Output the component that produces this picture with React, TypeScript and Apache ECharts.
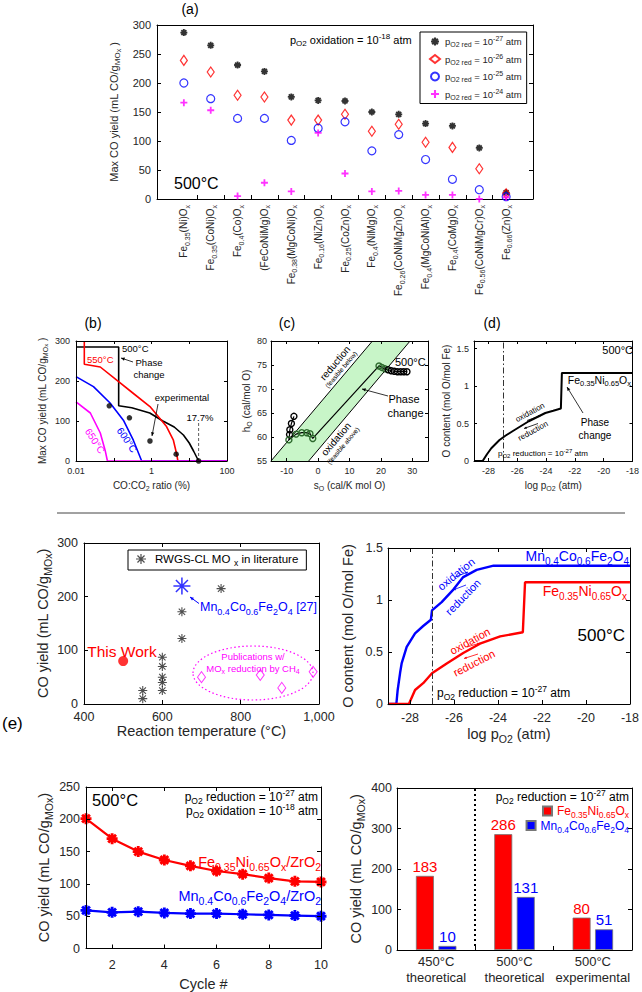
import React, { useEffect, useRef } from "react";
import * as echarts from "echarts";

const FONT = "'Liberation Sans', Arial, Helvetica, sans-serif";
const INK = "#262626";
const RED = "#ff0000";
const BLUE = "#0000ff";
const MAGENTA = "#ff00ff";
const GREEN_EDGE = "#2d6a2d";

// ---------------- (a) max CO yield per material ----------------
const materials = [
  "Fe_{0.35}(Ni)O_{x}",
  "Fe_{0.35}(CoNi)O_{x}",
  "Fe_{0.4}(Co)O_{x}",
  "(FeCoNiMg)O_{x}",
  "Fe_{0.38}(MgCoNi)O_{x}",
  "Fe_{0.16}(NiZn)O_{x}",
  "Fe_{0.25}(CoZn)O_{x}",
  "Fe_{0.4}(NiMg)O_{x}",
  "Fe_{0.26}(CoNiMgZn)O_{x}",
  "Fe_{0.4}(MgCoNiAl)O_{x}",
  "Fe_{0.4}(CoMg)O_{x}",
  "Fe_{0.56}(CoNiMgCr)O_{x}",
  "Fe_{0.66}(Zn)O_{x}",
];
const yieldRed27 = [287, 265, 231, 220, 176, 170, 169, 150, 146, 130, 126, 88, 11];
const yieldRed26 = [239, 219, 179, 176, 136, 136, 146, 117, 129, 98, 89, 52, 9];
const yieldRed25 = [200, 173, 139, 139, 101, 122, 133, 83, 111, 68, 34, 16, 4];
const yieldRed24 = [166, 153, 5, 28, 13, 114, 44, 13, 14, 7, 7, 0, 3];
const aLegendLabels = [
  "p_{O2 red} = 10^{-27} atm",
  "p_{O2 red} = 10^{-26} atm",
  "p_{O2 red} = 10^{-25} atm",
  "p_{O2 red} = 10^{-24} atm",
];

// ---------------- (b) yield vs CO:CO2 ratio ----------------
const bTickLabels = ["0.01", "1", "100"];
const b500 = [[0.01, 285], [0.135, 285], [0.135, 138], [0.3, 133], [0.9, 120], [2, 100], [4, 85], [7, 65], [10, 45], [13, 25], [17.7, 0], [100, 0]];
const b550 = [[0.0166, 300], [0.0166, 242], [0.044, 235], [0.12, 202], [0.32, 170], [0.91, 136], [2.5, 86], [3.8, 52], [4.7, 15], [5, 0], [100, 0]];
const b600 = [[0.01, 211], [0.029, 186], [0.08, 145], [0.18, 102], [0.33, 52], [0.55, 0], [100, 0]];
const b650 = [[0.01, 148], [0.024, 120], [0.044, 70], [0.059, 27], [0.068, 0], [100, 0]];
const bExperimental = [[0.076, 138], [0.26, 108], [0.91, 50], [4.5, 17], [17.7, 0]];
const bLimitMarker = [[17.7, 0], [17.7, 98]];

// ---------------- (c) hO vs sO ----------------
const cReductionLine = [[-15, 55], [17.3, 80]];
const cOxidationLine = [[-3, 55], [29.3, 80]];
const cFeasibleBand = [[-15, 55], [17.3, 80], [29.3, 80], [-3, 55]];
const cPath = [
  [-7.7, 64.3], [-8.5, 62.8], [-9.0, 61.5], [-9.1, 60.5], [-9.3, 59.4],
  [-7.0, 60.6], [-5.2, 60.9], [-3.6, 60.9], [-2.6, 60.7], [-1.7, 59.7],
  [19.4, 74.8], [20.3, 74.5], [21.3, 74.2], [22.3, 74.0], [23.3, 73.8],
  [24.3, 73.7], [25.3, 73.6], [26.3, 73.6], [27.3, 73.6], [28.3, 73.6],
];

// ---------------- (d) O content vs log pO2 ----------------
const dCurve = [[-29, 0], [-28.4, 0], [-28.1, 0.09], [-27.8, 0.17], [-27.23, 0.28], [-26.8, 0.34], [-26.3, 0.4], [-25.2, 0.53], [-24.05, 0.64], [-23.5, 0.67], [-22.97, 0.7], [-22.9, 1.175], [-18, 1.175]];
const pO2Reduction = -27;

// ---------------- (e) literature comparison ----------------
const litRWGS = [[550, 25], [550, 10], [600, 87], [600, 70], [600, 50], [600, 40], [600, 25], [650, 172], [650, 122], [750, 215]];
const litMnCoFe = [[650, 220]];
const thisWork = [[500, 80]];
const litCH4 = [[700, 50], [850, 54], [905, 30], [985, 60]];

const eMnCoFe = [[-29, 0], [-28.62, 0], [-28.56, 0.135], [-28.45, 0.3], [-28.38, 0.39], [-28.15, 0.55], [-27.77, 0.68], [-27.4, 0.75], [-27.05, 0.81], [-27, 0.9], [-26.56, 0.98], [-26.03, 1.1], [-25.58, 1.22], [-24.97, 1.29], [-24.2, 1.33], [-18, 1.33]];
const eFeNi = [[-29, 0], [-28.05, 0], [-27.77, 0.135], [-27.4, 0.2], [-27, 0.295], [-26.33, 0.39], [-25.58, 0.49], [-24.82, 0.58], [-23.9, 0.65], [-22.87, 0.69], [-22.77, 1.17], [-18, 1.17]];

const cycles = [1, 2, 3, 4, 5, 6, 7, 8, 9, 10];
const cycleFeNi = [201, 170, 150, 137, 128, 120, 115, 109, 104, 103];
const cycleMnCo = [59, 56, 57, 55, 54, 54, 53, 52, 51, 50];

const barCategories = ["450°C\ntheoretical", "500°C\ntheoretical", "500°C\nexperimental"];
const barFeNi = [183, 286, 80];
const barMnCo = [10, 131, 51];

// ---------------- helpers ----------------
function rt(s: string): string {
  const re = /(_|\^|~)\{([^}]*)\}|([^_^~]+)/g;
  let out = "";
  let m: RegExpExecArray | null;
  while ((m = re.exec(s)) !== null) {
    if (m[3] !== undefined) out += `{n|${m[3]}}`;
    else out += `{${m[1] === "_" ? "s" : m[1] === "^" ? "u" : "t"}|${m[2]}}`;
  }
  return out;
}
function rich(size: number, color: string = INK) {
  const lh = Math.round(size * 1.4);
  const ss = Math.max(5.5, Math.round(size * 0.72 * 2) / 2);
  const tt = Math.max(5, Math.round(ss * 0.85));
  const base = { color, fill: color, fontFamily: FONT };
  return {
    n: { ...base, fontSize: size, lineHeight: lh, verticalAlign: "middle" },
    s: { ...base, fontSize: ss, lineHeight: ss, verticalAlign: "bottom" },
    u: { ...base, fontSize: ss, lineHeight: ss, verticalAlign: "top" },
    t: { ...base, fontSize: tt, lineHeight: Math.round(tt * 0.6), verticalAlign: "bottom" },
  };
}
function clean(o: any): any {
  if (Array.isArray(o)) return o.map(clean);
  if (o && typeof o === "object") {
    const r: any = {};
    Object.keys(o).forEach((k) => {
      if (o[k] !== undefined) r[k] = clean(o[k]);
    });
    return r;
  }
  return o;
}
function asterisk(hw: number): string {
  const c = 12, R = 10, r = R / Math.SQRT2, d = hw / Math.SQRT2;
  const f = (v: number) => v.toFixed(2);
  const poly = (pts: number[][]) => "M" + pts.map((p) => f(p[0]) + " " + f(p[1])).join("L") + "Z";
  return "path://" + [
    poly([[c - R, c - hw], [c + R, c - hw], [c + R, c + hw], [c - R, c + hw]]),
    poly([[c - hw, c - R], [c + hw, c - R], [c + hw, c + R], [c - hw, c + R]]),
    poly([[c - r + d, c - r - d], [c + r + d, c + r - d], [c + r - d, c + r + d], [c - r - d, c - r + d]]),
    poly([[c + r - d, c - r - d], [c + r + d, c - r + d], [c - r + d, c + r + d], [c - r - d, c + r - d]]),
  ].join(" ");
}
const PLUS = "path://M0 2.6L7 2.6L7 4.4L0 4.4Z M2.6 0L4.4 0L4.4 7L2.6 7Z";

function gtext(x: number, y: number, markup: string, size: number, color: string = INK, align = "left", rotation = 0) {
  return {
    type: "text",
    x, y, rotation, z: 100, silent: true,
    style: { text: rt(markup), rich: rich(size, color), fill: color, font: `${size}px ${FONT}`, align, verticalAlign: "middle" },
  };
}
function arrow(x1: number, y1: number, x2: number, y2: number, color = "#000", w = 1, head = 5) {
  const a = Math.atan2(y2 - y1, x2 - x1);
  const p1 = [x2 - head * Math.cos(a - 0.42), y2 - head * Math.sin(a - 0.42)];
  const p2 = [x2 - head * Math.cos(a + 0.42), y2 - head * Math.sin(a + 0.42)];
  return [
    { type: "line", z: 100, silent: true, shape: { x1, y1, x2, y2 }, style: { stroke: color, lineWidth: w } },
    { type: "polygon", z: 100, silent: true, shape: { points: [[x2, y2], p1, p2] }, style: { fill: color } },
  ];
}
const lineAt = (ln: number[][], s: number) => ln[0][1] + ((ln[1][1] - ln[0][1]) * (s - ln[0][0])) / (ln[1][0] - ln[0][0]);

type AxisSpec = {
  type?: string; min?: number; max?: number; interval?: number; splitNumber?: number; logBase?: number;
  data?: string[]; boundaryGap?: boolean; fs: number; margin?: number; formatter?: any;
  showMinLabel?: boolean; showMaxLabel?: boolean; name?: string; nameGap?: number; nameSize?: number;
  tickLen?: number; mirrorTicks?: boolean; lineHeight?: number; labelInterval?: number;
};

function buildOption() {
  const grid: any[] = [];
  const xAxis: any[] = [];
  const yAxis: any[] = [];
  const series: any[] = [];
  const legend: any[] = [];
  const graphic: any[] = [];
  const axisLine = { show: true, onZero: false, lineStyle: { color: "#000", width: 1 } };

  const mkAxis = (gi: number, s: AxisSpec, dim: string, pos: string, main: boolean) => {
    const a: any = {
      gridIndex: gi, position: pos, type: s.type || "value",
      min: s.min, max: s.max, interval: s.interval, splitNumber: s.splitNumber, logBase: s.logBase,
      data: s.data, boundaryGap: s.boundaryGap,
      axisLine,
      axisTick: { show: main || s.mirrorTicks !== false, inside: true, length: s.tickLen || 4, lineStyle: { color: "#000", width: 1 } },
      axisLabel: main
        ? { show: true, color: INK, fontSize: s.fs, fontFamily: FONT, margin: s.margin ?? 5, formatter: s.formatter, showMinLabel: s.showMinLabel, showMaxLabel: s.showMaxLabel, lineHeight: s.lineHeight, interval: s.labelInterval }
        : { show: false },
      splitLine: { show: false },
      z: 10,
    };
    if (main && s.name) {
      a.name = rt(s.name);
      a.nameLocation = "middle";
      a.nameGap = s.nameGap;
      a.nameRotate = dim === "y" ? 90 : 0;
      a.nameTextStyle = { rich: rich(s.nameSize || s.fs, INK), fontFamily: FONT, fontSize: s.nameSize || s.fs, color: INK };
    }
    return clean(a);
  };
  const addPanel = (rect: any, xs: AxisSpec, ys: AxisSpec) => {
    const gi = grid.length;
    grid.push({ ...rect, show: false });
    const xi = xAxis.length;
    xAxis.push(mkAxis(gi, xs, "x", "bottom", true));
    xAxis.push(mkAxis(gi, xs, "x", "top", false));
    const yi = yAxis.length;
    yAxis.push(mkAxis(gi, ys, "y", "left", true));
    yAxis.push(mkAxis(gi, ys, "y", "right", false));
    return { xAxisIndex: xi, yAxisIndex: yi };
  };
  const lineS = (ax: any, data: any[], color: string, width: number, extra: any = {}) => ({
    type: "line", ...ax, data, symbol: "none", showSymbol: false, silent: true,
    lineStyle: { color, width }, itemStyle: { color }, clip: true, z: 3, ...extra,
  });

  // ===== (a) =====
  grid.push({ left: 157, top: 25, width: 376, height: 174, show: false });
  const nSlots = (materials.length + 1) * 2;
  xAxis.push(clean({
    gridIndex: 0, type: "value", position: "bottom", min: 0, max: materials.length + 1, interval: 1,
    axisLine, axisTick: { show: false }, splitLine: { show: false },
    axisLabel: {
      color: INK, rotate: 90, margin: 6, fontFamily: FONT, fontSize: 10,
      formatter: (v: number) => {
        const i = Math.round(v);
        return Math.abs(v - i) < 1e-6 && i >= 1 && i <= materials.length ? rt(materials[i - 1]) : "";
      },
      rich: rich(10, INK),
    },
  }));
  xAxis.push({
    gridIndex: 0, type: "category", position: "bottom", boundaryGap: true,
    data: Array.from({ length: nSlots }, (_, i) => String(i)),
    axisLine: { show: false }, axisLabel: { show: false }, splitLine: { show: false },
    axisTick: { show: true, inside: true, length: 4, lineStyle: { color: "#000" }, interval: (i: number) => i % 2 === 1 && i >= 3 && i <= nSlots - 3 },
  });
  xAxis.push({ gridIndex: 0, type: "value", position: "top", min: 0, max: materials.length + 1, axisLine, axisTick: { show: false }, axisLabel: { show: false }, splitLine: { show: false } });
  yAxis.push(mkAxis(0, { min: 0, max: 300, interval: 50, fs: 11, margin: 6, name: "Max CO yield (mL CO/g_{MO}~{x} )", nameGap: 31, nameSize: 11 }, "y", "left", true));
  yAxis.push(mkAxis(0, { min: 0, max: 300, interval: 50, fs: 11 }, "y", "right", false));
  const aAx = { xAxisIndex: 0, yAxisIndex: 0 };
  const aSeries = [
    { id: "pRed27", vals: yieldRed27, symbol: asterisk(2.6), size: 7, item: { color: "#000" } },
    { id: "pRed26", vals: yieldRed26, symbol: "diamond", size: [7, 10], item: { color: "rgba(0,0,0,0)", borderColor: RED, borderWidth: 1.2 } },
    { id: "pRed25", vals: yieldRed25, symbol: "circle", size: 8, item: { color: "rgba(0,0,0,0)", borderColor: BLUE, borderWidth: 1.2 } },
    { id: "pRed24", vals: yieldRed24, symbol: PLUS, size: 7, item: { color: MAGENTA } },
  ];
  aSeries.forEach((s) => {
    series.push({
      type: "scatter", name: s.id, ...aAx, symbol: s.symbol, symbolSize: s.size, itemStyle: s.item, silent: true, z: 5,
      data: s.vals.map((v, i) => [i + 1, v]),
    });
  });
  legend.push({
    show: true, orient: "vertical", left: 420, top: 32, padding: [3, 5, 3, 9], itemGap: 4.5,
    itemWidth: 10, itemHeight: 8, borderColor: "#000", borderWidth: 1, backgroundColor: "#fff",
    data: aSeries.map((s) => s.id),
    formatter: (n: string) => rt(aLegendLabels[aSeries.findIndex((s) => s.id === n)]),
    textStyle: { fontFamily: FONT, fontSize: 9.5, color: INK, rich: rich(9.5, INK) },
    selectedMode: false,
  });
  graphic.push(gtext(190, 9, "(a)", 14, "#000", "center"));
  graphic.push(gtext(290, 40, "p_{O2} oxidation = 10^{-18} atm", 11, "#000"));
  graphic.push(gtext(174, 183, "500°C", 16, "#000"));

  // ===== (b) =====
  const bAx = addPanel(
    { left: 76, top: 341, width: 151, height: 120 },
    {
      type: "log", logBase: 10, min: 0.01, max: 100, fs: 9, margin: 5, tickLen: 3,
      formatter: (v: number) => {
        const e = Math.round(Math.log10(v));
        return e % 2 === 0 ? bTickLabels[(e + 2) / 2] : "";
      },
      name: "CO:CO_{2} ratio (%)", nameGap: 17, nameSize: 10,
    },
    { min: 0, max: 300, interval: 100, fs: 9, margin: 6, tickLen: 3, name: "Max CO yield (mL CO/g_{MO}~{x} )", nameGap: 27, nameSize: 10 }
  );
  series.push(lineS(bAx, b500, "#000", 1.6));
  series.push(lineS(bAx, b550, RED, 1.6));
  series.push(lineS(bAx, b600, BLUE, 1.6));
  series.push(lineS(bAx, b650, MAGENTA, 1.6));
  series.push(lineS(bAx, bLimitMarker, "#333", 0.8, { lineStyle: { color: "#333", width: 0.8, type: [3, 2] }, z: 2 }));
  series.push({ type: "scatter", ...bAx, data: bExperimental, symbol: "circle", symbolSize: 5.5, itemStyle: { color: "#000" }, silent: true, z: 6 });
  graphic.push(gtext(93, 323, "(b)", 14, "#000", "center"));
  graphic.push(gtext(122, 348, "500°C", 9.5, "#000"));
  graphic.push(gtext(87, 359, "550°C", 9.5, RED));
  graphic.push(gtext(149, 362, "Phase", 9.5, "#000", "center"));
  graphic.push(gtext(149, 374.5, "change", 9.5, "#000", "center"));
  graphic.push(gtext(182, 397, "experimental", 9.5, "#000", "center"));
  graphic.push(gtext(200, 417, "17.7%", 9.5, "#000", "center"));
  graphic.push(gtext(95, 441, "650°C", 10, MAGENTA, "center", -1.0));
  graphic.push(gtext(127, 440, "600°C", 10, BLUE, "center", -0.98));
  graphic.push(...arrow(133, 362, 121, 358, "#000", 0.8, 4));
  graphic.push(...arrow(158, 404, 152, 436, "#000", 0.8, 4));

  // ===== (c) =====
  const cAx = addPanel(
    { left: 271, top: 341, width: 157, height: 120 },
    { min: -15, max: 35, splitNumber: 5, fs: 9, margin: 5, tickLen: 3, showMinLabel: false, showMaxLabel: false, name: "s_{O} (cal/K mol O)", nameGap: 17, nameSize: 10 },
    { min: 55, max: 80, interval: 5, fs: 9, margin: 4, tickLen: 3, name: "h_{O} (cal/mol O)", nameGap: 17, nameSize: 10 }
  );
  series.push({
    type: "custom", ...cAx, data: [0], silent: true, z: 1, clip: true,
    renderItem: (_p: any, api: any) => ({
      type: "polygon",
      shape: { points: cFeasibleBand.map((p) => api.coord(p)) },
      style: { fill: "#c8f5c8" },
    }),
  });
  series.push(lineS(cAx, cReductionLine, "#000", 1));
  series.push(lineS(cAx, cOxidationLine, "#000", 1));
  series.push({
    type: "line", ...cAx, silent: true, z: 5, clip: true,
    symbol: "circle", symbolSize: 6, showSymbol: true,
    lineStyle: { color: "#000", width: 1.2 },
    itemStyle: { color: "rgba(0,0,0,0)", borderColor: "#000", borderWidth: 1.4 },
    data: cPath.map((p) => {
      const inside = p[1] <= lineAt(cReductionLine, p[0]) && p[1] >= lineAt(cOxidationLine, p[0]);
      return { value: p, itemStyle: { color: "rgba(0,0,0,0)", borderColor: inside ? GREEN_EDGE : "#000", borderWidth: 1.4 } };
    }),
  });
  graphic.push(gtext(287, 323, "(c)", 14, "#000", "center"));
  graphic.push(gtext(335, 363, "reduction", 10, "#000", "center", 0.87));
  graphic.push(gtext(341, 369.5, "(feasible below)", 6.5, "#000", "center", 0.87));
  graphic.push(gtext(336, 439, "oxidation", 10, "#000", "center", 0.87));
  graphic.push(gtext(343, 445.5, "(feasible above)", 6.5, "#000", "center", 0.87));
  graphic.push(gtext(395, 362, "500°C", 11, "#000"));
  graphic.push(gtext(404, 399, "Phase", 11, "#000", "center"));
  graphic.push(gtext(405.5, 412.5, "change", 11, "#000", "center"));
  graphic.push(...arrow(388, 396, 362, 389, "#000", 0.8, 4));

  // ===== (d) =====
  const dAx = addPanel(
    { left: 474, top: 341, width: 162, height: 120 },
    { min: -29, max: -18, splitNumber: 5, fs: 9, margin: 5, tickLen: 3, showMinLabel: false, name: "log p_{O2} (atm)", nameGap: 17, nameSize: 10 },
    { min: 0, max: 1.6, interval: 0.5, fs: 9, margin: 5, tickLen: 3, showMaxLabel: false, name: "O content (mol O/mol Fe)", nameGap: 21, nameSize: 10 }
  );
  const dashDot = { silent: true, symbol: "none", label: { show: false }, lineStyle: { color: "#333", type: [6, 2.5, 1.5, 2.5], width: 1 }, data: [{ xAxis: pO2Reduction }] };
  series.push(lineS(dAx, dCurve, "#000", 2, { markLine: dashDot }));
  graphic.push(gtext(492, 323, "(d)", 14, "#000", "center"));
  graphic.push(gtext(633, 350, "500°C", 11, "#000", "right"));
  graphic.push(gtext(631, 380, "Fe_{0.35}Ni_{0.65}O_{x}", 10.5, "#000", "right"));
  graphic.push(gtext(530, 412.5, "oxidation", 8, "#000", "center", 0.5));
  graphic.push(gtext(533, 431, "reduction", 8, "#000", "center", 0.5));
  graphic.push(...arrow(527, 420.5, 541, 415.5, "#000", 0.8, 3));
  graphic.push(...arrow(538, 423.5, 524, 428.5, "#000", 0.8, 3));
  graphic.push(gtext(595, 422.5, "Phase", 10, "#000", "center"));
  graphic.push(gtext(595, 435, "change", 10, "#000", "center"));
  graphic.push(...arrow(583, 413, 567, 387, "#000", 0.8, 4));
  graphic.push(gtext(498, 453, "p_{O2} reduction = 10^{-27} atm", 8, "#000"));

  // separator
  graphic.push({ type: "line", z: 100, silent: true, shape: { x1: 57, y1: 513, x2: 625, y2: 513 }, style: { stroke: "#444", lineWidth: 1 } });
  graphic.push(gtext(2, 723, "(e)", 17, "#000"));

  // ===== (e1) literature =====
  const e1Ax = addPanel(
    { left: 84, top: 543, width: 235, height: 161 },
    { min: 400, max: 1000, interval: 200, fs: 12.5, margin: 6, name: "Reaction temperature (°C)", nameGap: 17, nameSize: 14.5 },
    { min: 0, max: 300, interval: 100, fs: 12.5, margin: 6, name: "CO yield (mL CO/g_{MOx})", nameGap: 30, nameSize: 14.5 }
  );
  series.push({ type: "scatter", name: "RWGS-CL", ...e1Ax, data: litRWGS, symbol: asterisk(1.2), symbolSize: 9, itemStyle: { color: "#222" }, silent: true, z: 5 });
  series.push({ type: "scatter", name: "MnCoFe27", ...e1Ax, data: litMnCoFe, symbol: asterisk(0.9), symbolSize: 17, itemStyle: { color: BLUE }, silent: true, z: 5 });
  series.push({ type: "scatter", name: "ThisWork", ...e1Ax, data: thisWork, symbol: "circle", symbolSize: 10, itemStyle: { color: RED }, silent: true, z: 5 });
  series.push({ type: "scatter", name: "CH4", ...e1Ax, data: litCH4, symbol: "diamond", symbolSize: [8, 11], itemStyle: { color: "rgba(0,0,0,0)", borderColor: MAGENTA, borderWidth: 1 }, silent: true, z: 5 });
  legend.push({
    show: true, orient: "horizontal", left: 128, top: 550, padding: [3, 8, 3, 8], itemWidth: 18, itemHeight: 10,
    borderColor: "#000", borderWidth: 1, backgroundColor: "#fff", data: ["RWGS-CL"], selectedMode: false,
    formatter: () => rt("RWGS-CL MO _{x} in literature"),
    textStyle: { fontFamily: FONT, fontSize: 11.5, color: "#000", rich: rich(11.5, "#000") },
  });
  graphic.push(gtext(122, 651, "This Work", 15.5, RED, "center"));
  graphic.push(gtext(200, 607, "Mn_{0.4}Co_{0.6}Fe_{2}O_{4} [27]", 12.5, BLUE));
  graphic.push(...arrow(199, 603.5, 190, 597, BLUE, 1, 4));
  graphic.push({ type: "ellipse", z: 90, silent: true, shape: { cx: 253, cy: 673, rx: 60, ry: 27 }, style: { fill: "none", stroke: MAGENTA, lineWidth: 1.2, lineDash: [1.5, 2.5] } });
  graphic.push(gtext(253, 656, "Publications w/", 9.5, MAGENTA, "center"));
  graphic.push(gtext(253, 668.5, "MO_{x} reduction by CH_{4}", 9.5, MAGENTA, "center"));

  // ===== (e2) O content =====
  const e2Ax = addPanel(
    { left: 388, top: 548, width: 244, height: 156 },
    { min: -29, max: -18, splitNumber: 5, fs: 12.5, margin: 7, showMinLabel: false, name: "log p_{O2} (atm)", nameGap: 20, nameSize: 14.5 },
    { min: 0, max: 1.5, interval: 0.5, fs: 12.5, margin: 5, name: "O content (mol O/mol Fe)", nameGap: 30, nameSize: 14.5 }
  );
  series.push(lineS(e2Ax, eMnCoFe, BLUE, 2.4, { markLine: dashDot }));
  series.push(lineS(e2Ax, eFeNi, RED, 2.4));
  graphic.push(gtext(629, 556, "Mn_{0.4}Co_{0.6}Fe_{2}O_{4}", 14, BLUE, "right"));
  graphic.push(gtext(627, 591, "Fe_{0.35}Ni_{0.65}O_{x}", 14, RED, "right"));
  graphic.push(gtext(625, 635, "500°C", 17, "#000", "right"));
  graphic.push(gtext(437, 693, "p_{O2} reduction = 10^{-27} atm", 12, "#000"));
  graphic.push(gtext(456, 574, "oxidation", 11, BLUE, "center", 0.68));
  graphic.push(gtext(463, 597, "reduction", 11, BLUE, "center", 0.8));
  graphic.push(...arrow(455, 577, 468, 572, BLUE, 0.8, 3));
  graphic.push(...arrow(466, 585, 453, 590, BLUE, 0.8, 3));
  graphic.push(gtext(470, 641, "oxidation", 11, RED, "center", 0.5));
  graphic.push(gtext(474, 663, "reduction", 11, RED, "center", 0.47));
  graphic.push(...arrow(467, 647, 480, 643, RED, 0.8, 3));
  graphic.push(...arrow(478, 654, 464, 658.5, RED, 0.8, 3));

  // ===== (e3) cycles =====
  const e3Ax = addPanel(
    { left: 86, top: 787, width: 235, height: 163 },
    { min: 1, max: 10, splitNumber: 5, fs: 12.5, margin: 10, showMinLabel: false, name: "Cycle #", nameGap: 25, nameSize: 14.5 },
    { min: 0, max: 250, interval: 50, fs: 12.5, margin: 6, name: "CO yield (mL CO/g_{MOx})", nameGap: 32, nameSize: 14.5 }
  );
  const cycMarker = asterisk(2.6);
  series.push(lineS(e3Ax, cycles.map((c, i) => [c, cycleFeNi[i]]), RED, 2.2, { symbol: cycMarker, symbolSize: 11, showSymbol: true, z: 5 }));
  series.push(lineS(e3Ax, cycles.map((c, i) => [c, cycleMnCo[i]]), BLUE, 2.2, { symbol: cycMarker, symbolSize: 11, showSymbol: true, z: 5 }));
  graphic.push(gtext(92, 800, "500°C", 16.5, "#000"));
  graphic.push(gtext(318, 797, "p_{O2} reduction = 10^{-27} atm", 12, "#000", "right"));
  graphic.push(gtext(318, 811, "p_{O2} oxidation = 10^{-18} atm", 12, "#000", "right"));
  graphic.push(gtext(321, 862, "Fe_{0.35}Ni_{0.65}O_{x}/ZrO_{2}", 14.5, RED, "right"));
  graphic.push(gtext(321, 896, "Mn_{0.4}Co_{0.6}Fe_{2}O_{4}/ZrO_{2}", 14.5, BLUE, "right"));

  // ===== (e4) bars =====
  const e4Ax = addPanel(
    { left: 397, top: 788, width: 235, height: 162 },
    { type: "category", data: barCategories, boundaryGap: true, fs: 13, margin: 3, lineHeight: 16, mirrorTicks: false, labelInterval: 0 },
    { min: 0, max: 400, interval: 100, fs: 12.5, margin: 5, name: "CO yield (mL CO/g_{MOx})", nameGap: 31, nameSize: 14.5 }
  );
  const barLabel = (color: string) => ({ show: true, position: "top", distance: 2, color, fontSize: 15, fontFamily: FONT });
  series.push({ type: "bar", name: "barFeNi", ...e4Ax, data: barFeNi, barWidth: 18, barGap: "25%", itemStyle: { color: RED, borderColor: "#777", borderWidth: 0.8 }, label: barLabel(RED), silent: true, z: 4 });
  series.push({ type: "bar", name: "barMnCo", ...e4Ax, data: barMnCo, barWidth: 18, barGap: "25%", itemStyle: { color: BLUE, borderColor: "#777", borderWidth: 0.8 }, label: barLabel(BLUE), silent: true, z: 4 });
  legend.push({
    show: true, right: 13, top: 805, padding: 0, itemWidth: 9, itemHeight: 9, icon: "rect", selectedMode: false,
    data: [{ name: "barFeNi", textStyle: { color: RED } }],
    formatter: () => rt("Fe_{0.35}Ni_{0.65}O_{x}"),
    textStyle: { fontFamily: FONT, fontSize: 12, color: RED, rich: rich(12, RED) },
  });
  legend.push({
    show: true, right: 13, top: 819.5, padding: 0, itemWidth: 9, itemHeight: 9, icon: "rect", selectedMode: false,
    data: [{ name: "barMnCo", textStyle: { color: BLUE } }],
    formatter: () => rt("Mn_{0.4}Co_{0.6}Fe_{2}O_{4}"),
    textStyle: { fontFamily: FONT, fontSize: 12, color: BLUE, rich: rich(12, BLUE) },
  });
  graphic.push(gtext(629, 797, "p_{O2} reduction = 10^{-27} atm", 12, "#000", "right"));
  graphic.push({ type: "line", z: 100, silent: true, shape: { x1: 475, y1: 789, x2: 475, y2: 949 }, style: { stroke: "#000", lineWidth: 2, lineDash: [2, 3] } });

  return {
    animation: false,
    backgroundColor: "#fff",
    textStyle: { fontFamily: FONT },
    grid, xAxis, yAxis, series, legend, graphic,
  };
}

export default function App() {
  const ref = useRef<HTMLDivElement>(null);
  useEffect(() => {
    if (!ref.current) return;
    const chart = echarts.init(ref.current, undefined, { renderer: "svg" });
    chart.setOption(buildOption());
    return () => chart.dispose();
  }, []);
  return <div ref={ref} style={{ position: "absolute", left: 0, top: 0, width: 642, height: 992, background: "#fff" }} />;
}
